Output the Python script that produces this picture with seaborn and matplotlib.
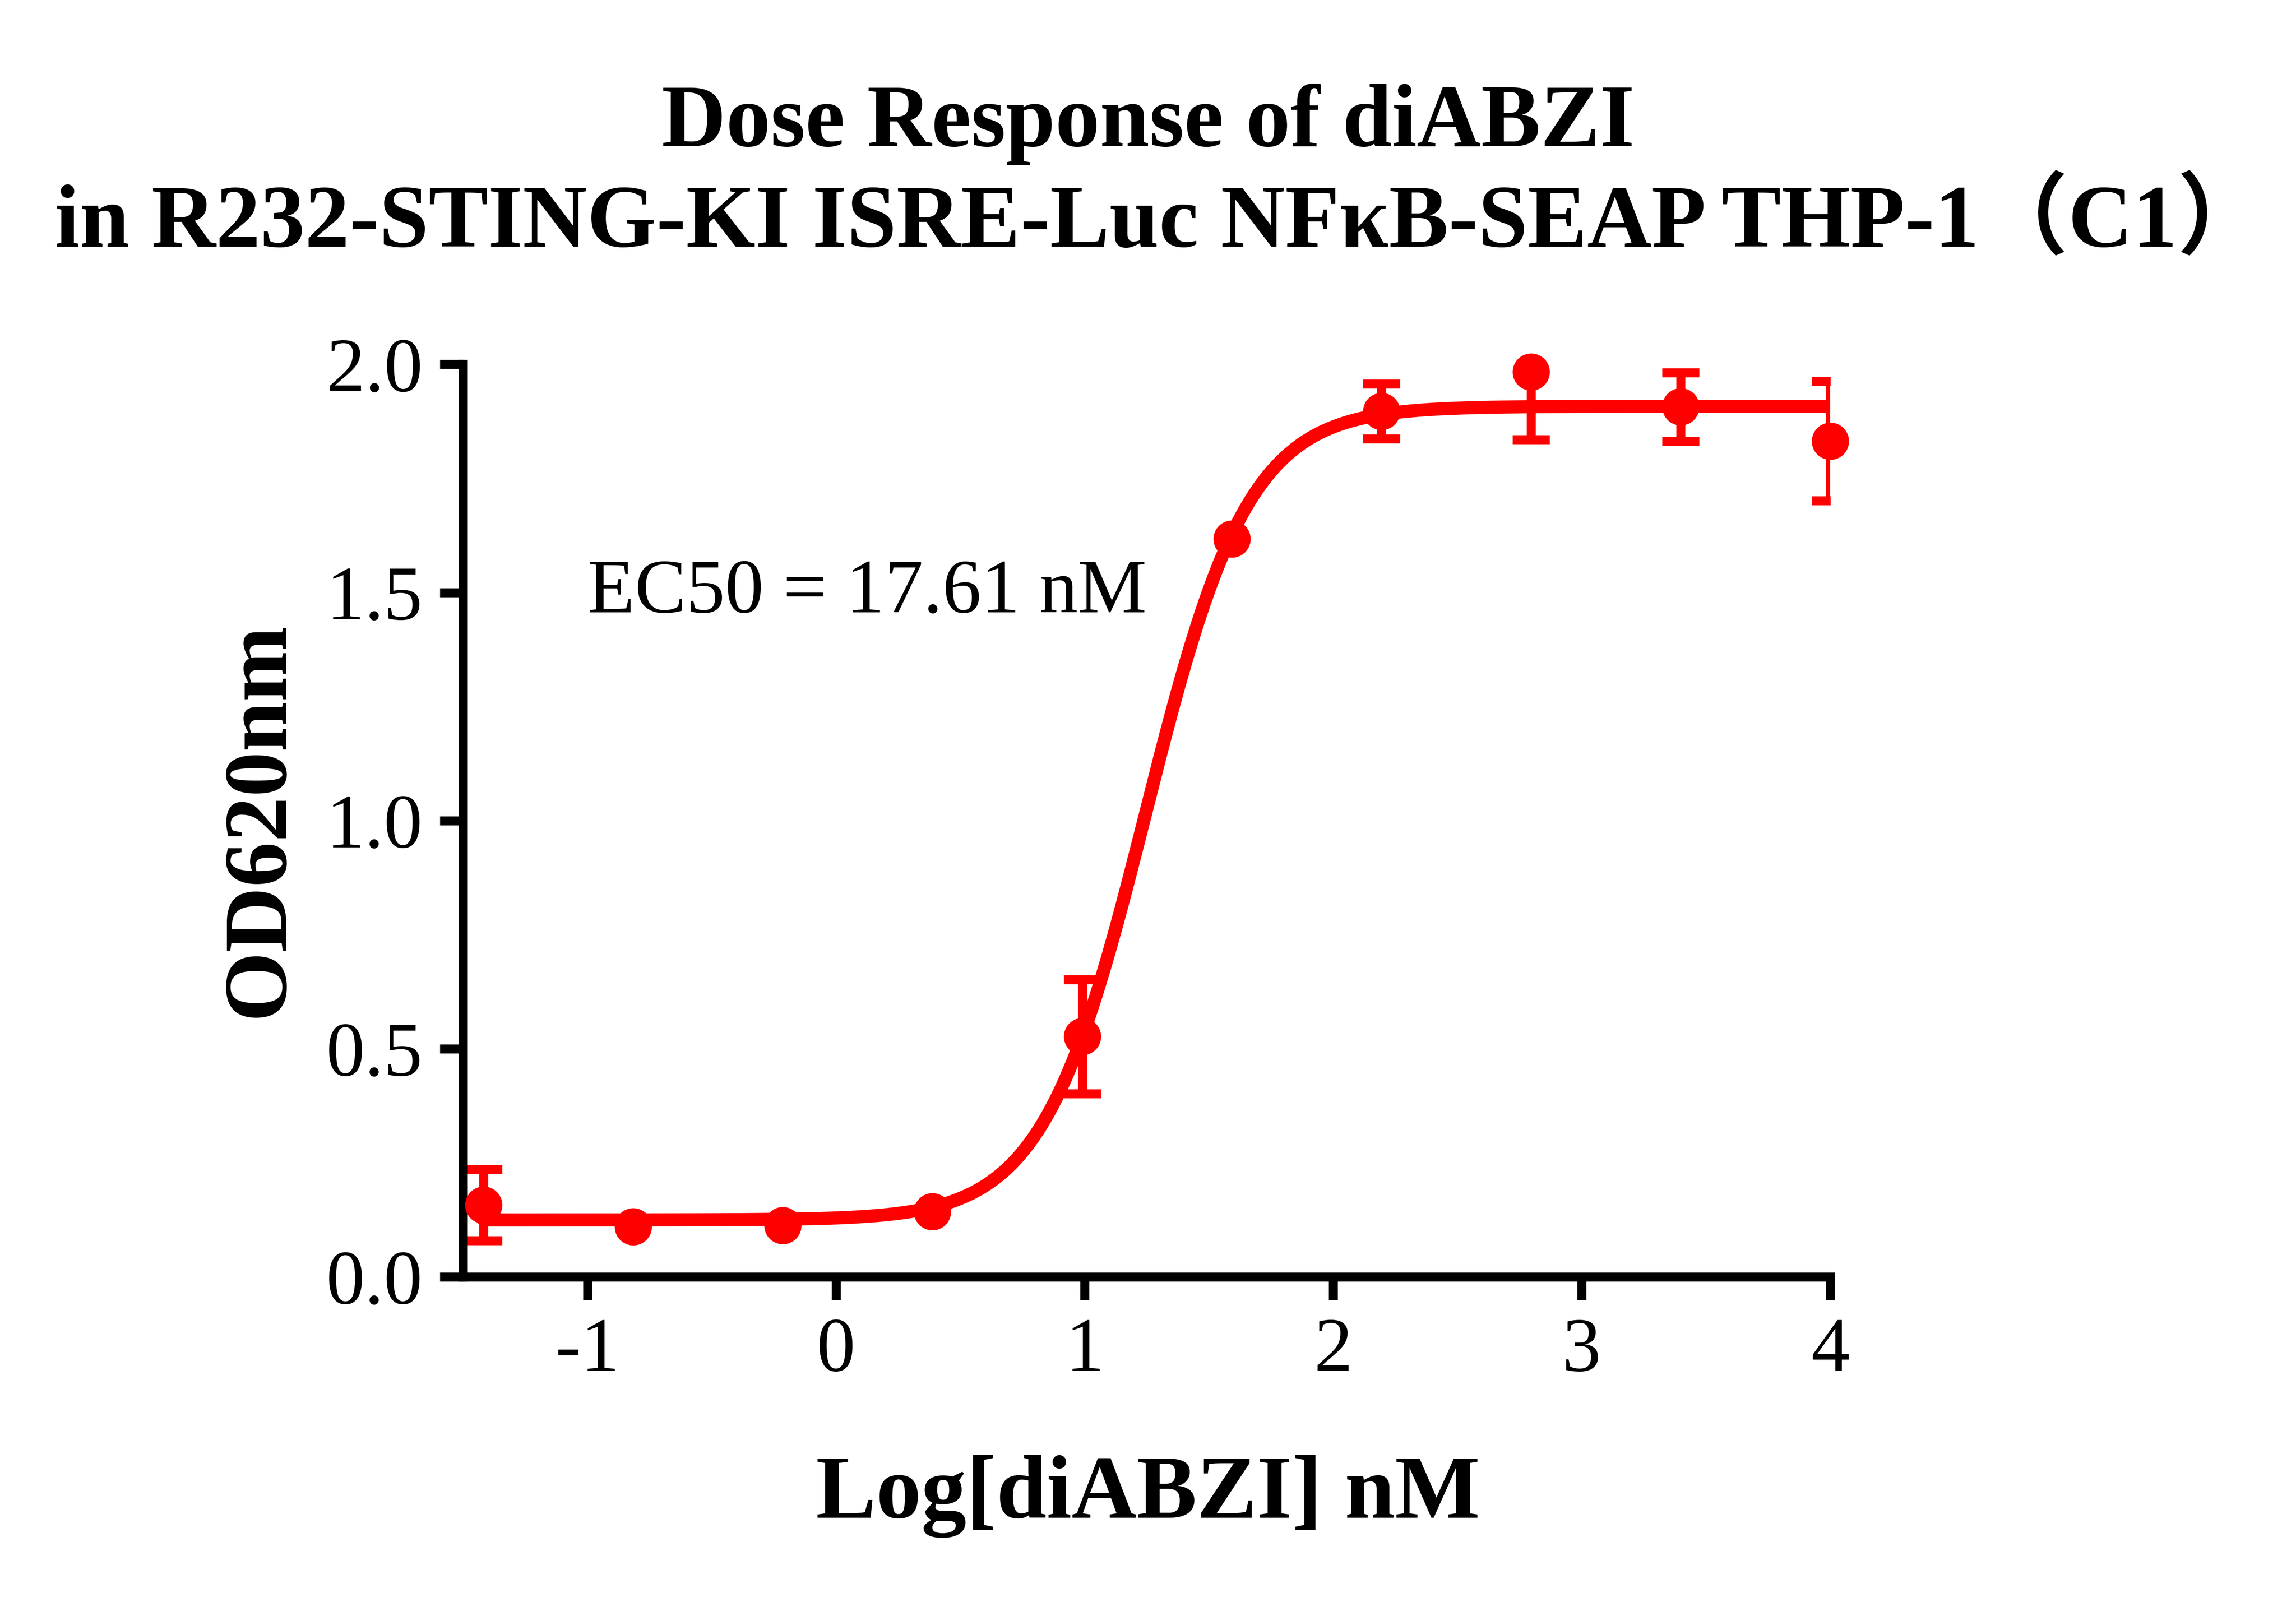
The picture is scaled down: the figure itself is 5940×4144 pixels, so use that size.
import numpy as np
import pandas as pd
import seaborn as sns
import matplotlib.pyplot as plt

# data
log_conc = [-1.418, -0.816, -0.214, 0.388, 0.990, 1.592, 2.194, 2.796, 3.398, 4.000]
od_mean = [0.158, 0.110, 0.113, 0.143, 0.527, 1.617, 1.897, 1.983, 1.907, 1.832]
od_sd = [0.078, 0.0, 0.0, 0.0, 0.125, 0.0, 0.060, 0.148, 0.075, 0.131]

# 4PL fit shown in the chart
fit_bottom = 0.125
fit_top = 1.908
fit_ec50_nm = 17.61
fit_hill = 2.1

x_ticks = [-1, 0, 1, 2, 3, 4]
y_ticks = [0.0, 0.5, 1.0, 1.5, 2.0]
y_ticklabels = ["0.0", "0.5", "1.0", "1.5", "2.0"]

title_1 = "Dose Response of diABZI"
title_2 = "in R232-STING-KI ISRE-Luc NFκB-SEAP THP-1（C1）"

red = "#FF0000"

sns.set_theme(style="ticks")
plt.rcParams["font.family"] = ["Liberation Serif", "Noto Sans CJK SC"]
plt.rcParams["text.color"] = "black"
plt.rcParams["axes.labelcolor"] = "black"
plt.rcParams["axes.linewidth"] = 4.2

df = pd.DataFrame({"logc": log_conc, "od": od_mean, "sd": od_sd})

xs = np.linspace(min(log_conc), max(log_conc), 600)
curve = pd.DataFrame({
    "logc": xs,
    "od": fit_bottom + (fit_top - fit_bottom)
    / (1 + 10 ** (fit_hill * (np.log10(fit_ec50_nm) - xs))),
})

fig = plt.figure(figsize=(14.85, 10.36), dpi=400)
ax = fig.add_axes([0.2017, 0.2029, 0.5955, 0.5697])

sns.lineplot(data=curve, x="logc", y="od", ax=ax, color=red, linewidth=6.1)

err = df[df["sd"] > 0]
ax.errorbar(err["logc"], err["od"], yerr=err["sd"], fmt="none", ecolor=red,
            elinewidth=4.2, capsize=8.6, capthick=4.2)

sns.scatterplot(data=df, x="logc", y="od", ax=ax, color=red, s=300,
                linewidth=0, clip_on=False, zorder=5)

ax.set_xlim(-1.5, 4)
ax.set_ylim(0, 2.0)
ax.set_xticks(x_ticks)
ax.set_xticklabels([str(t) for t in x_ticks])
ax.set_yticks(y_ticks)
ax.set_yticklabels(y_ticklabels)
ax.tick_params(axis="both", length=10.8, width=4.2, labelsize=36, pad=8,
               color="black", labelcolor="black")
sns.despine(ax=ax)
for s in ["left", "bottom"]:
    ax.spines[s].set_color("black")
    ax.spines[s].set_linewidth(4.2)
ax.set_xlabel("")
ax.set_ylabel("")

ax.text(-1.0, 1.456, f"EC50 = {fit_ec50_nm} nM", fontsize=36,
        ha="left", va="baseline", color="black")

fig.text(0.5, 0.9088, title_1, fontsize=41.5, fontweight="bold",
         ha="center", va="baseline", color="black")
fig.text(0.5055, 0.8460, title_2, fontsize=41.5, fontweight="bold",
         ha="center", va="baseline", color="black")
fig.text(0.5, 1 - 3926 / 4144, "Log[diABZI] nM", fontsize=42,
         fontweight="bold", ha="center", va="baseline", color="black")
fig.text(0.1229, 1 - 2120 / 4144, "OD620nm", fontsize=42, fontweight="bold",
         ha="center", va="baseline", rotation=90, rotation_mode="anchor",
         color="black")

fig.savefig("out.png", dpi=400, facecolor="white")
